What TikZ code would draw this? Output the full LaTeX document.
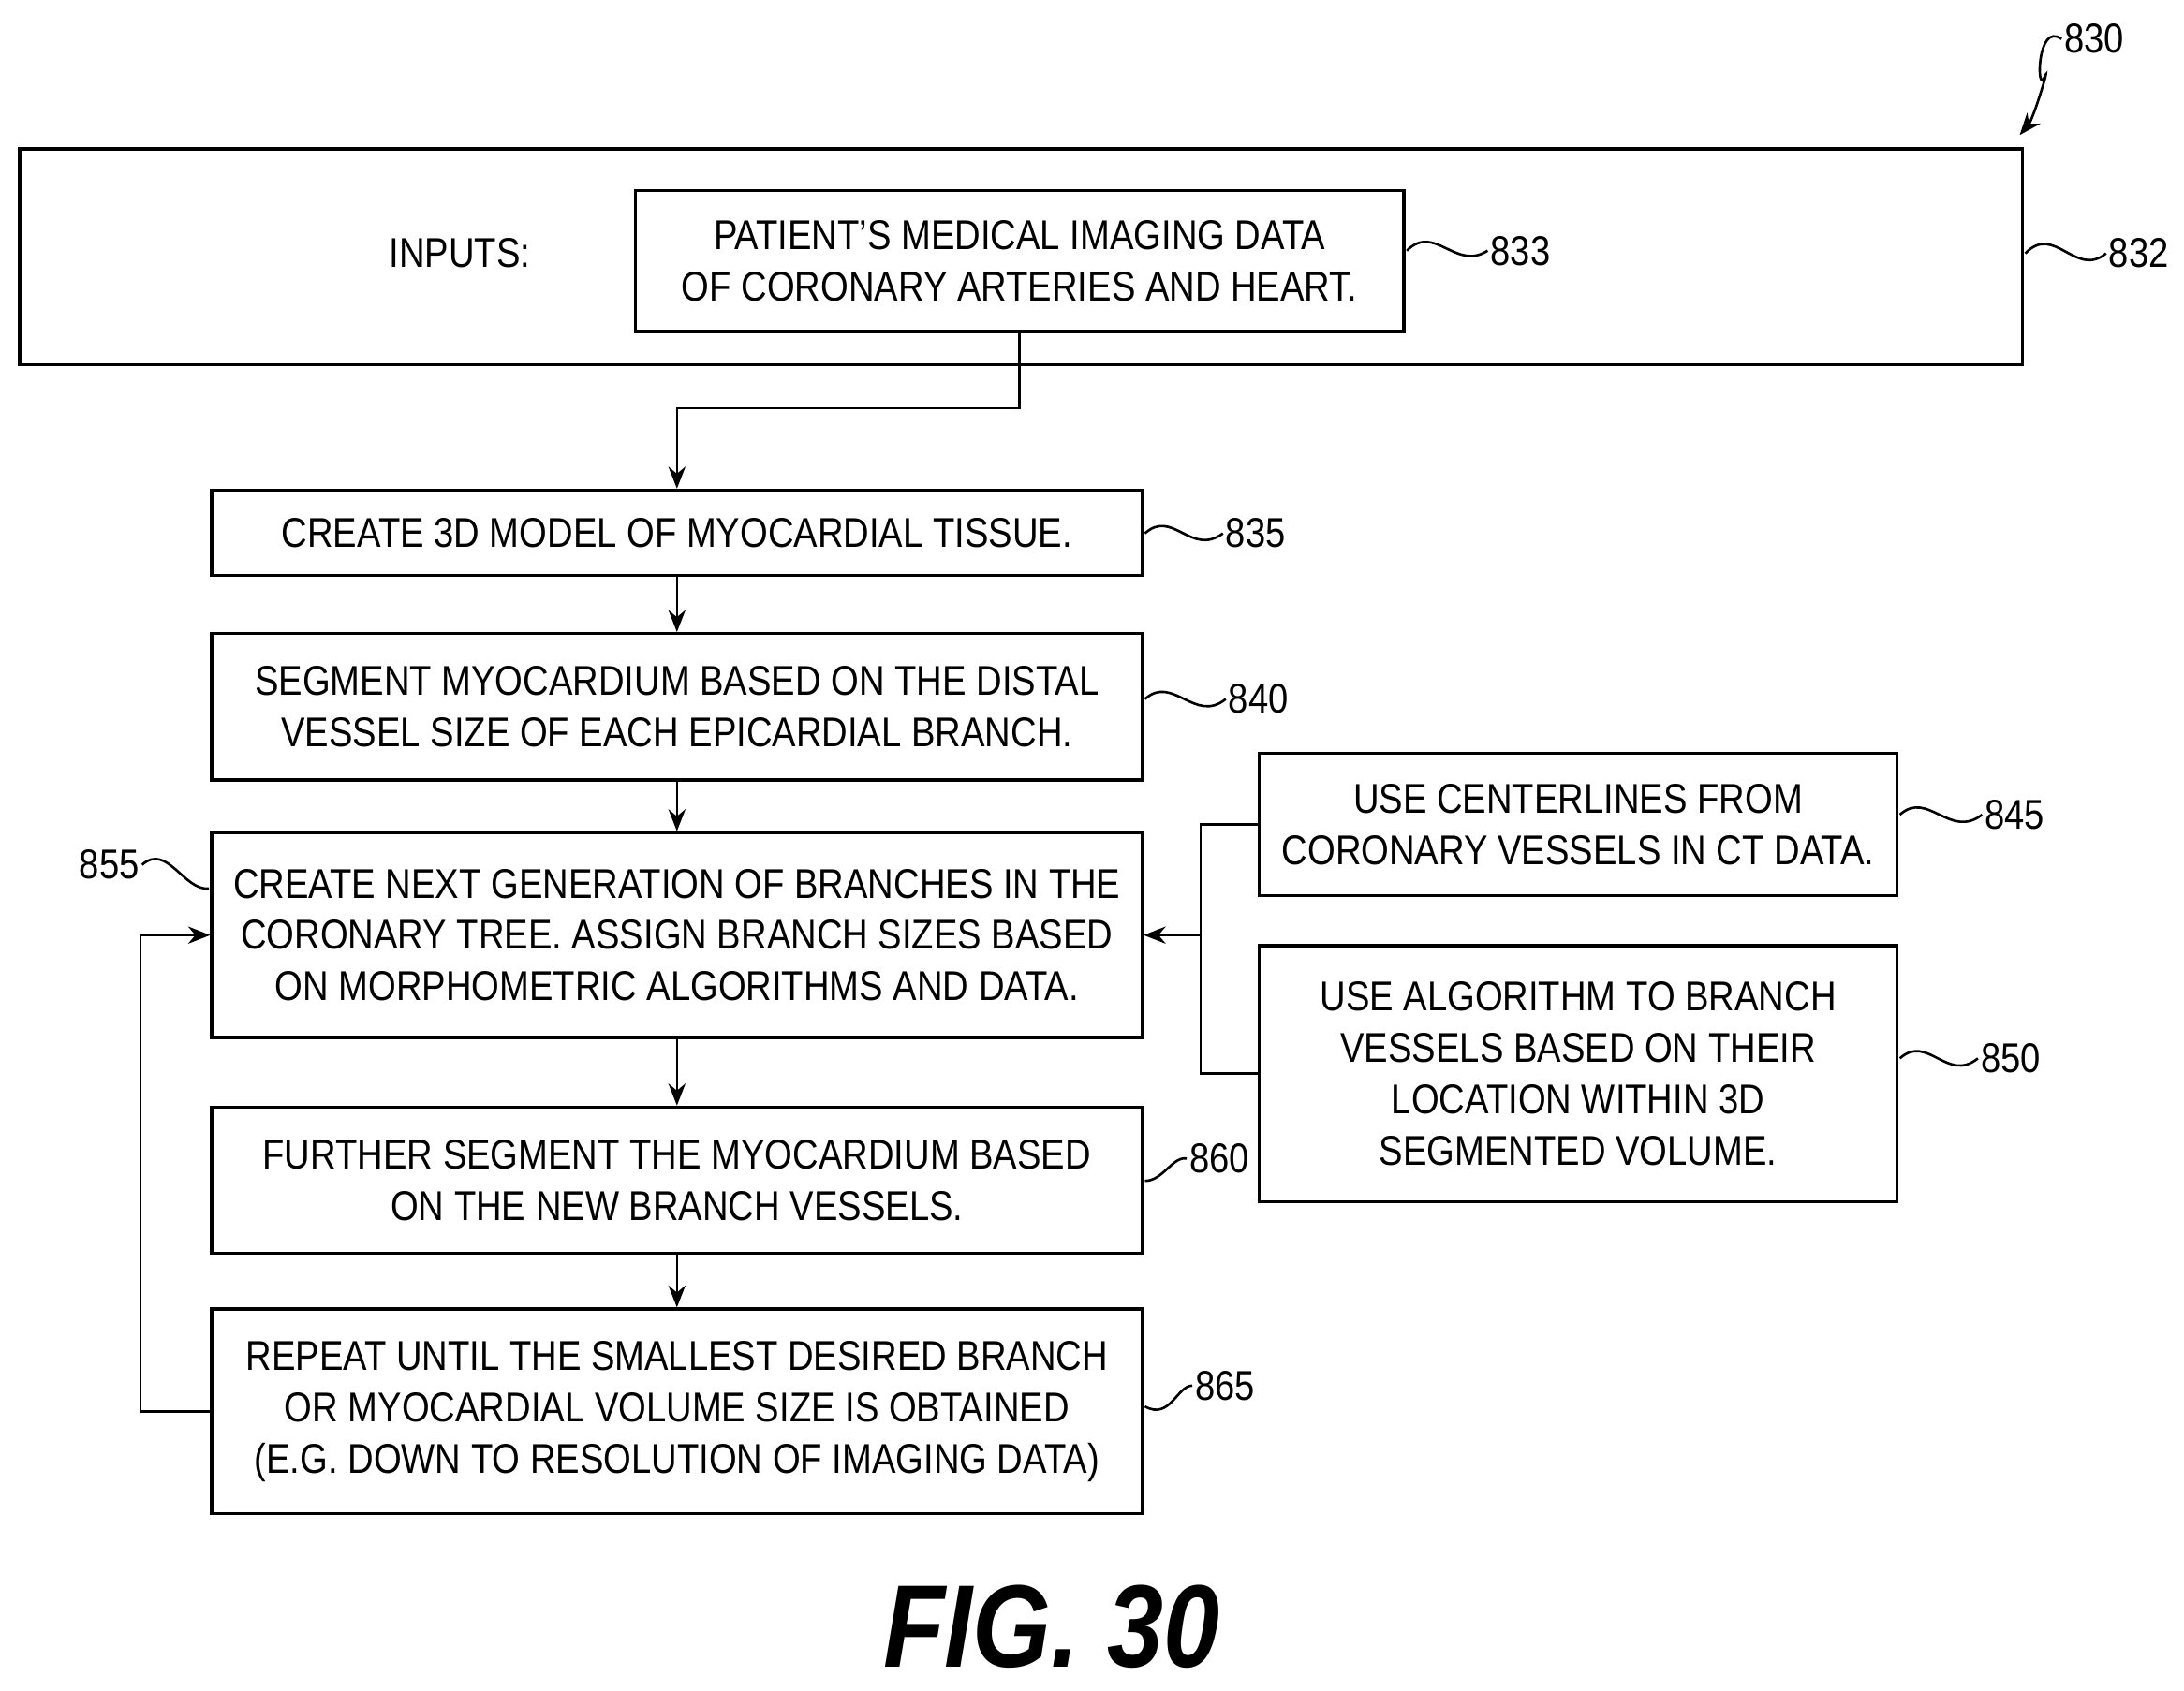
\documentclass[tikz,border=0pt]{standalone}
\usepackage{fontspec}
\setmainfont{Liberation Sans}[FakeStretch=0.86]
\usetikzlibrary{arrows.meta}
\begin{document}
\begin{tikzpicture}[x=0.02cm,y=-0.02cm,
  box/.style={draw,line width=1.3pt,inner sep=0,align=center,font=\fontsize{17}{21}\selectfont},
  arr/.style={line width=1pt,-{Stealth[length=9pt,width=7pt]}},
  ln/.style={line width=1pt},
  lab/.style={font=\fontsize{17}{21}\selectfont,inner sep=1pt}]
\useasboundingbox (0,0) rectangle (1568,1214);
\node[box,minimum width=28.76cm,minimum height=3.1cm] (o) at (733,184.5) {};
\node[lab] (inp) at (330,182) {INPUTS:};
\node[box,minimum width=11.04cm,minimum height=2.02cm] (b833) at (732,187.5) {PATIENT’S MEDICAL IMAGING DATA\\OF CORONARY ARTERIES AND HEART.};
\node[box,minimum width=13.36cm,minimum height=1.22cm] (b835) at (486,382.5) {CREATE 3D MODEL OF MYOCARDIAL TISSUE.};
\node[box,minimum width=13.36cm,minimum height=2.1cm] (b840) at (486,507.5) {SEGMENT MYOCARDIUM BASED ON THE DISTAL\\VESSEL SIZE OF EACH EPICARDIAL BRANCH.};
\node[box,minimum width=13.36cm,minimum height=2.94cm] (b855) at (486,671.5) {CREATE NEXT GENERATION OF BRANCHES IN THE\\CORONARY TREE. ASSIGN BRANCH SIZES BASED\\ON MORPHOMETRIC ALGORITHMS AND DATA.};
\node[box,minimum width=13.36cm,minimum height=2.1cm] (b860) at (486,847.5) {FURTHER SEGMENT THE MYOCARDIUM BASED\\ON THE NEW BRANCH VESSELS.};
\node[box,minimum width=13.36cm,minimum height=2.94cm] (b865) at (486,1013.5) {REPEAT UNTIL THE SMALLEST DESIRED BRANCH\\OR MYOCARDIAL VOLUME SIZE IS OBTAINED\\(E.G. DOWN TO RESOLUTION OF IMAGING DATA)};
\node[box,minimum width=9.16cm,minimum height=2.04cm] (b845) at (1133,592) {USE CENTERLINES FROM\\CORONARY VESSELS IN CT DATA.};
\node[box,minimum width=9.16cm,minimum height=3.68cm] (b850) at (1133,771) {USE ALGORITHM TO BRANCH\\VESSELS BASED ON THEIR\\LOCATION WITHIN 3D\\SEGMENTED VOLUME.};
% labels
\node[lab,anchor=west] (l830) at (1480,28) {830};
\node[lab,anchor=west] (l832) at (1512,182) {832};
\node[lab,anchor=west] (l833) at (1068,180) {833};
\node[lab,anchor=west] (l835) at (878,383) {835};
\node[lab,anchor=west] (l840) at (880,502) {840};
\node[lab,anchor=west] (l845) at (1423,585) {845};
\node[lab,anchor=west] (l850) at (1420,760) {850};
\node[lab,anchor=east] (l855) at (102,621) {855};
\node[lab,anchor=west] (l860) at (852,832) {860};
\node[lab,anchor=west] (l865) at (856,995) {865};
% squiggles
\draw[ln] (l830.west) .. controls (1462,15) and (1462,70) .. (1468,55);
\draw[ln,-{Stealth[length=9pt,width=7pt]}] (1468,55) .. controls (1472,45) and (1460,85) .. (1450,97);
\draw[ln] (1454,182) .. controls (1475,160) and (1490,200) .. (l832.west);
\draw[ln] (1010,180) .. controls (1030,160) and (1045,195) .. (l833.west);
\draw[ln] (822,383) .. controls (842,365) and (855,400) .. (l835.west);
\draw[ln] (822,502) .. controls (842,484) and (858,520) .. (l840.west);
\draw[ln] (1364,585) .. controls (1384,567) and (1400,603) .. (l845.west);
\draw[ln] (1364,760) .. controls (1384,742) and (1398,778) .. (l850.west);
\draw[ln] (l855.east) .. controls (120,605) and (132,640) .. (150,638);
\draw[ln] (822,848) .. controls (835,848) and (842,830) .. (l860.west);
\draw[ln] (822,1010) .. controls (840,1020) and (845,995) .. (l865.west);
% connectors
\draw[arr] (b833.south) -- ++(0,54) -| (b835.north);
\draw[arr] (b835.south) -- (b840.north);
\draw[arr] (b840.south) -- (b855.north);
\draw[arr] (b855.south) -- (b860.north);
\draw[arr] (b860.south) -- (b865.north);
\coordinate (j) at (862,671.5);
\draw[ln] (b845.west) -| (j) |- (b850.west);
\draw[arr] (j) -- (b855.east);
\draw[arr] (b865.west) -- ++(-50,0) |- (b855.west);
\node[font=\bfseries\itshape\fontsize{48}{48}\selectfont] (fig) at (755,1168) {FIG. 30};
\end{tikzpicture}
\end{document}
